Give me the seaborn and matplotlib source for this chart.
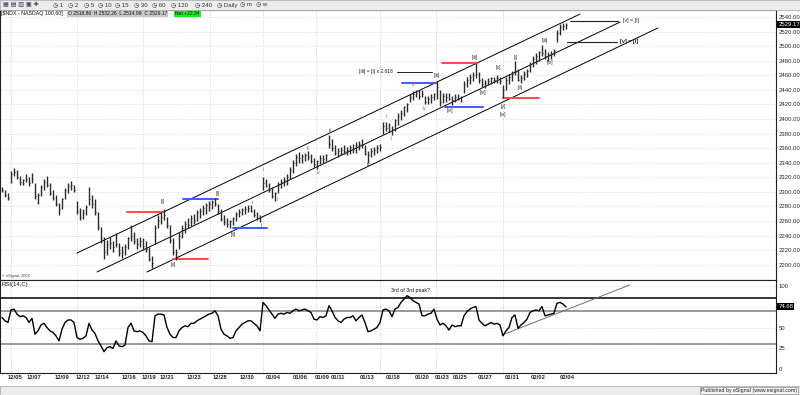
import numpy as np
import matplotlib
matplotlib.use("Agg")
import matplotlib.pyplot as plt
from matplotlib.patches import Rectangle
import seaborn as sns

# 60 min NDX bars, one every 3 chart px from x=2
bar_low = [2300, 2293, 2289, 2312, 2322, 2318, 2310, 2309, 2314, 2308,
           2312, 2290, 2284, 2294, 2302, 2306, 2296, 2289, 2280, 2268,
           2276, 2290, 2298, 2303, 2300, 2270, 2262, 2263, 2268, 2282,
           2278, 2268, 2248, 2230, 2208, 2214, 2222, 2217, 2224, 2212,
           2209, 2213, 2222, 2232, 2228, 2222, 2224, 2220, 2218, 2205,
           2195, 2228, 2250, 2256, 2262, 2250, 2230, 2213, 2206, 2222,
           2236, 2244, 2250, 2253, 2256, 2260, 2264, 2268, 2270, 2274,
           2276, 2280, 2270, 2260, 2255, 2252, 2250, 2254, 2260, 2266,
           2268, 2270, 2272, 2272, 2266, 2262, 2258, 2302, 2306, 2300,
           2292, 2288, 2298, 2305, 2308, 2310, 2318, 2326, 2336, 2340,
           2340, 2342, 2344, 2340, 2334, 2332, 2338, 2340, 2342, 2360,
           2356, 2350, 2348, 2350, 2352, 2350, 2352, 2354, 2354, 2358,
           2360, 2350, 2340, 2348, 2350, 2354, 2356, 2380, 2384, 2382,
           2378, 2384, 2392, 2398, 2404, 2410, 2424, 2426, 2430, 2428,
           2430, 2420, 2420, 2422, 2426, 2428, 2418, 2422, 2424, 2426,
           2419, 2424, 2426, 2424, 2436, 2444, 2448, 2452, 2456, 2450,
           2444, 2442, 2446, 2448, 2450, 2450, 2448, 2429, 2440, 2448,
           2452, 2460, 2452, 2449, 2454, 2458, 2464, 2472, 2476, 2480,
           2486, 2482, 2480, 2482, 2486, 2505, 2515, 2522, 2524]
bar_high = [2306, 2302, 2298, 2328, 2333, 2330, 2322, 2318, 2325, 2320,
            2326, 2312, 2298, 2310, 2318, 2322, 2312, 2302, 2295, 2285,
            2292, 2305, 2312, 2315, 2310, 2288, 2278, 2276, 2282, 2306,
            2296, 2290, 2272, 2252, 2238, 2234, 2238, 2232, 2244, 2230,
            2225, 2228, 2238, 2254, 2245, 2236, 2238, 2236, 2232, 2224,
            2212, 2255, 2268, 2272, 2276, 2266, 2255, 2236, 2222, 2245,
            2255, 2260, 2264, 2268, 2270, 2275, 2278, 2282, 2285, 2288,
            2289, 2291, 2284, 2276, 2268, 2264, 2262, 2266, 2272, 2276,
            2278, 2280, 2282, 2282, 2276, 2272, 2268, 2320, 2318, 2312,
            2306, 2300, 2314, 2318, 2320, 2324, 2334, 2344, 2352, 2355,
            2352, 2354, 2356, 2352, 2346, 2344, 2350, 2350, 2352, 2378,
            2372, 2364, 2360, 2362, 2364, 2362, 2364, 2366, 2368, 2370,
            2372, 2364, 2356, 2360, 2362, 2364, 2366, 2396, 2396, 2394,
            2390, 2400, 2408, 2412, 2418, 2422, 2434, 2438, 2440, 2440,
            2440, 2432, 2432, 2434, 2436, 2452, 2440, 2436, 2436, 2436,
            2432, 2434, 2434, 2432, 2452, 2458, 2462, 2464, 2477, 2464,
            2456, 2454, 2456, 2458, 2458, 2460, 2458, 2446, 2458, 2462,
            2466, 2480, 2468, 2460, 2466, 2468, 2478, 2486, 2490, 2494,
            2502, 2496, 2492, 2494, 2496, 2522, 2530, 2532, 2532]
bar_close = [2302, 2295, 2291, 2325, 2327, 2320, 2313, 2316, 2318, 2312,
             2318, 2294, 2296, 2306, 2314, 2310, 2299, 2292, 2284, 2276,
             2290, 2302, 2308, 2310, 2303, 2274, 2266, 2271, 2279, 2290,
             2284, 2272, 2252, 2236, 2218, 2228, 2230, 2224, 2228, 2216,
             2218, 2224, 2236, 2240, 2232, 2228, 2232, 2226, 2222, 2208,
             2202, 2250, 2262, 2266, 2268, 2254, 2234, 2218, 2218, 2240,
             2250, 2256, 2254, 2264, 2262, 2272, 2274, 2278, 2282, 2284,
             2286, 2284, 2274, 2263, 2258, 2256, 2260, 2264, 2270, 2272,
             2275, 2276, 2278, 2274, 2268, 2264, 2266, 2312, 2308, 2302,
             2294, 2298, 2310, 2314, 2316, 2320, 2330, 2340, 2348, 2346,
             2349, 2350, 2348, 2342, 2338, 2342, 2346, 2345, 2350, 2366,
             2360, 2354, 2356, 2358, 2356, 2358, 2362, 2360, 2364, 2366,
             2364, 2352, 2350, 2356, 2358, 2360, 2362, 2390, 2388, 2384,
             2386, 2398, 2404, 2408, 2416, 2420, 2430, 2434, 2436, 2432,
             2434, 2424, 2428, 2430, 2434, 2444, 2424, 2432, 2430, 2428,
             2426, 2430, 2428, 2430, 2448, 2454, 2458, 2460, 2462, 2454,
             2448, 2450, 2452, 2456, 2454, 2456, 2452, 2440, 2454, 2458,
             2462, 2464, 2454, 2456, 2462, 2466, 2476, 2482, 2486, 2492,
             2490, 2486, 2488, 2490, 2494, 2518, 2526, 2528, 2529.17]
rsi = [62, 58, 56, 71, 72, 66, 63, 64, 62, 56,
       61, 42, 46, 53, 55, 50, 46, 44, 40, 34,
       48, 56, 59, 59, 56, 38, 36, 37, 40, 55,
       47, 43, 34, 28, 21, 26, 27, 25, 34, 28,
       27, 29, 50, 55, 46, 45, 46, 44, 40, 34,
       33, 64, 66, 66, 65, 50, 42, 38, 38, 46,
       50, 52, 51, 55, 55, 58, 60, 62, 64, 66,
       67, 70, 64, 48, 42, 40, 37, 38, 46, 50,
       54, 56, 58, 58, 55, 52, 46, 80, 76, 71,
       66, 61, 66, 67, 66, 68, 67, 70, 72, 70,
       71, 72, 70, 68, 60, 59, 63, 62, 64, 76,
       70, 62, 58, 56, 60, 62, 62, 64, 58, 62,
       65, 56, 45, 46, 48, 50, 56, 71, 72, 70,
       63, 72, 74, 80, 84, 88, 86, 82, 80, 78,
       64, 64, 66, 67, 72, 60, 53, 55, 52, 47,
       53, 51, 52, 52, 64, 69, 72, 74, 75, 59,
       55, 52, 54, 56, 54, 55, 53, 40, 46, 50,
       62, 65, 49, 53, 56, 60, 68, 70, 71, 70,
       75, 64, 65, 66, 67, 79, 80, 78, 74.68]

price_ticks = list(range(2200, 2541, 20))
rsi_ticks = [0, 25, 50, 100]
date_labels = ["12/05", "12/07", "12/09", "12/12", "12/14", "12/16", "12/19", "12/21",
               "12/23", "12/28", "12/30", "01/04", "01/06", "01/09", "01/11", "01/13",
               "01/18", "01/20", "01/23", "01/25", "01/27", "01/31", "02/02", "02/04"]
date_pos = [15, 34, 62, 83, 102, 129, 149, 167, 194, 220, 247, 273, 300, 322, 338, 367,
            393, 422, 442, 460, 485, 512, 538, 567]
week_lines = [11, 77, 143, 210, 263, 316, 380, 436, 503]

# analyst drawings: channel (x0, p0, x1, p1) and level lines (x0, x1, price, colour)
channel = [(77, 2216, 580, 2544), (97, 2190, 620, 2533), (147, 2190, 658, 2525)]
levels = [(127, 163, 2272, "red"), (173, 208, 2208, "red"), (183, 218, 2290, "blue"),
          (233, 267, 2250, "blue"), (402, 437, 2449, "blue"), (445, 483, 2416, "blue"),
          (442, 477, 2477, "red"), (503, 539, 2429, "red"),
          (570, 618, 2535, "black"), (567, 617, 2506, "black")]
waves = [(163, 2287, "[i]", "k"), (173, 2200, "[ii]", "k"), (218, 2298, "[i]", "k"),
         (233, 2241, "[ii]", "k"), (252, 2285, "i", "k"), (262, 2254, "ii", "k"),
         (330, 2384, "iii", "k"), (368, 2337, "iv", "k"),
         (263, 2330, "i", "r"), (278, 2290, "ii", "r"), (308, 2360, "iii", "r"),
         (318, 2327, "iv", "r"), (386, 2404, "i", "r"), (392, 2373, "ii", "r"),
         (413, 2447, "iii", "r"), (424, 2415, "iv", "r"),
         (437, 2460, "[iii]", "k"), (450, 2412, "[iv]", "k"), (475, 2485, "[iii]", "k"),
         (483, 2436, "[iv]", "k"), (498, 2471, "[x]", "k"), (503, 2417, "[y]", "k"),
         (503, 2406, "[iv]", "k"), (516, 2484, "[i]", "k"), (520, 2443, "[ii]", "k"),
         (545, 2508, "[iii]", "k"), (550, 2478, "[iv]", "k")]

sns.set_style("white")
plt.rcParams["font.family"] = ["Liberation Sans", "DejaVu Sans"]

W, H = 800, 395


def box(x0, y0, x1, y1):
    return [x0 / W, 1 - y1 / H, (x1 - x0) / W, (y1 - y0) / H]


fig = plt.figure(figsize=(8, 3.95), dpi=100)
fig.patch.set_facecolor("white")

# toolbar strip
fig.patches.append(Rectangle((0, 1 - 10 / H), 1, 10 / H, transform=fig.transFigure,
                             facecolor="#ececec", edgecolor="#b0b0b0", lw=0.6))
fig.text(3 / W, 1 - 5 / H, "▦ ▤ ▥ ▣ ✚", fontsize=4.5, va="center", color="#404060")
tb_items = ["1", "2", "5", "10", "15", "30", "60", "120", "240", "Daily", "m", "w"]
tb_x = [53, 68, 84, 98, 115, 134, 152, 171, 195, 217, 240, 256]
for t, x in zip(tb_items, tb_x):
    fig.text(x / W, 1 - 5 / H, "◷ " + t, fontsize=4.3, va="center", color="#303030")

# bottom strip
fig.patches.append(Rectangle((0, 0), 1, 9 / H, transform=fig.transFigure,
                             facecolor="#ececec", edgecolor="#b0b0b0", lw=0.6))
fig.text(797 / W, 4.5 / H, "Published by eSignal (www.esignal.com)", fontsize=3.8,
         ha="right", va="center", color="#202020",
         bbox=dict(boxstyle="square,pad=0.25", fc="#f4f4f4", ec="#909090", lw=0.5))

ax_p = fig.add_axes(box(0, 10, 776, 280))
ax_r = fig.add_axes(box(0, 280, 776, 373))

xpos = 2 + 3 * np.arange(len(bar_close))

# ---- price panel
ax_p.set_xlim(0, 776)
ax_p.set_ylim(2179, 2549.6)
ax_p.hlines(price_ticks, 0, 776, colors="#b4b4b4", linestyles=(0, (1, 3)), lw=0.5, zorder=0)
ax_p.vlines(week_lines, 2179, 2549.6, colors="#b4b4b4", linestyles=(0, (1, 2)), lw=0.5, zorder=0)
ax_p.vlines(xpos, bar_low, bar_high, colors="#2a2a2a", lw=1.0, zorder=3)
ax_p.hlines(bar_close, xpos, xpos + 1.3, colors="#2a2a2a", lw=0.7, zorder=3)

for x0, p0, x1, p1 in channel:
    ax_p.plot([x0, x1], [p0, p1], color="black", lw=0.7, zorder=2)
lev_col = {"red": "#ff4a4a", "blue": "#3f5dff", "black": "#202020"}
for x0, x1, p, c in levels:
    ax_p.plot([x0, x1], [p, p], color=lev_col[c], lw=1.4 if c != "black" else 0.8, zorder=2)
for x, p, t, c in waves:
    ax_p.text(x, p, t, fontsize=3.6, ha="center", va="center",
              color="#303030" if c == "k" else "#ff3030", zorder=4)

ax_p.text(376, 2464.5, "[iii] = [i] x 2.618", fontsize=3.6, ha="center", va="center", color="#202020")
ax_p.plot([397, 432], [2464.5, 2464.5], color="#202020", lw=0.7)
ax_p.text(631, 2535, "[v] = [i]", fontsize=3.8, ha="center", va="center", color="#202020")
ax_p.text(629, 2506, "[v] = [i]", fontsize=4.0, ha="center", va="center", color="#202020",
          fontweight="bold")

ax_p.text(2, 2182, "© eSignal, 2008", fontsize=2.8, ha="left", va="bottom", color="#404040")

# header line
ax_p.text(1, 2544.5, "[$NDX - NASDAQ 100,60]", fontsize=3.8, ha="left", va="center",
          color="#101010")
ax_p.text(68, 2544.5, "O 2518.86  H 2532.26  L 2514.99  C 2529.17", fontsize=3.6,
          ha="left", va="center", color="#101010",
          bbox=dict(boxstyle="square,pad=0.2", fc="#c8c8c8", ec="none"))
ax_p.text(175, 2544.5, "Net +22.34", fontsize=3.6, ha="left", va="center", color="#101010",
          bbox=dict(boxstyle="square,pad=0.2", fc="#1cf01c", ec="none"))

ax_p.yaxis.tick_right()
ax_p.set_yticks(price_ticks)
ax_p.set_yticklabels([f"{v:.2f}" for v in price_ticks], fontsize=4.3)
ax_p.tick_params(axis="y", length=0, pad=2)
ax_p.set_xticks([])
ytr = ax_p.get_yaxis_transform()
ax_p.text(1.003, bar_close[-1], f"{bar_close[-1]:.2f}", transform=ytr, fontsize=4.3,
          ha="left", va="center", color="white",
          bbox=dict(boxstyle="square,pad=0.15", fc="black", ec="none"))

# ---- RSI panel
ax_r.set_xlim(0, 776)
ax_r.set_ylim(-4.4, 106.8)
ax_r.hlines([25, 50, 75, 100], 0, 776, colors="#b4b4b4", linestyles=(0, (1, 3)), lw=0.5, zorder=0)
ax_r.vlines(week_lines, -4.4, 106.8, colors="#b4b4b4", linestyles=(0, (1, 2)), lw=0.5, zorder=0)
ax_r.axhline(85, color="black", lw=1.1)
ax_r.axhline(70, color="#808080", lw=1.1)
ax_r.axhline(30, color="#808080", lw=1.1)
sns.lineplot(x=xpos, y=rsi, ax=ax_r, color="black", lw=1.0, zorder=3)
ax_r.plot([502, 630], [41, 101], color="#707070", lw=0.7)
ax_r.text(2, 101, "RSI(14,C)", fontsize=4.3, ha="left", va="center", color="#101010")
ax_r.text(410, 94, "3rd of 3rd peak?", fontsize=3.8, ha="center", va="center", color="#101010")

ax_r.yaxis.tick_right()
ax_r.set_yticks(rsi_ticks)
ax_r.set_yticklabels([str(v) for v in rsi_ticks], fontsize=4.3)
ax_r.tick_params(axis="y", length=0, pad=2)
ax_r.set_xticks(date_pos)
ax_r.set_xticklabels(date_labels, fontsize=4.2, fontweight="bold")
ax_r.tick_params(axis="x", length=0, pad=1.5)
rtr = ax_r.get_yaxis_transform()
ax_r.text(1.003, rsi[-1], f"{rsi[-1]:.2f}", transform=rtr, fontsize=4.3, ha="left",
          va="center", color="white", bbox=dict(boxstyle="square,pad=0.15", fc="black", ec="none"))

for ax in (ax_p, ax_r):
    for s in ax.spines.values():
        s.set_color("#202020")
        s.set_linewidth(0.8)

fig.savefig("out.png", dpi=100)
